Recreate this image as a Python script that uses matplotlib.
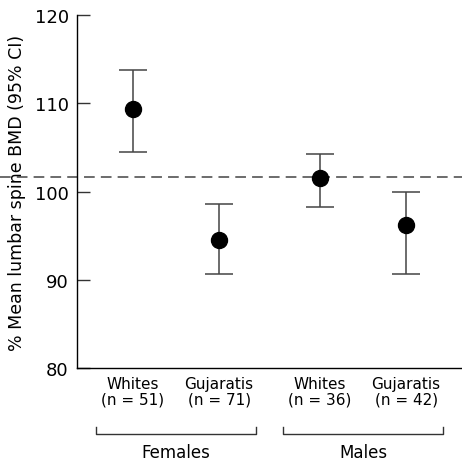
import matplotlib
matplotlib.use("Agg")
import matplotlib.pyplot as plt

groups = ["Whites", "Gujaratis", "Whites", "Gujaratis"]
counts = ["(n = 51)", "(n = 71)", "(n = 36)", "(n = 42)"]
sexes = ["Females", "Males"]
means = [109.4, 94.5, 101.5, 96.2]
ci_low = [104.5, 90.7, 98.3, 90.7]
ci_high = [113.8, 98.6, 104.3, 100.0]
reference = 101.7

#x positions as axes fraction (xlim 0..1)
xpos = [0.145, 0.369, 0.631, 0.855]

plt.rcParams["font.family"] = "DejaVu Sans"
fig = plt.figure(figsize=(4.62, 4.64), dpi=100)
ax = fig.add_axes([0.1667, 0.2047, 0.8333, 0.7608])

err = [[m - lo for m, lo in zip(means, ci_low)], [hi - m for m, hi in zip(means, ci_high)]]
ax.errorbar(xpos, means, yerr=err, fmt="none", ecolor="#444444", elinewidth=1.1,
            capsize=10, capthick=1.1, zorder=2)
ax.plot(xpos, means, "o", color="black", markersize=11.5, zorder=3)

#dashed reference line runs across the whole figure width
ax.plot([-0.2, 1.0], [reference, reference], linestyle=(0, (7, 4)), color="#444444",
        lw=1.1, clip_on=False, zorder=1)

ax.set_xlim(0, 1)
ax.set_ylim(80, 120)
ax.set_yticks([80, 90, 100, 110, 120])
ax.set_xticks([])
ax.tick_params(axis="y", direction="in", length=9.5, width=1, color="#333333",
               labelsize=13, pad=6)
ax.spines["top"].set_visible(False)
ax.spines["right"].set_visible(False)
ax.spines["left"].set_linewidth(1)
ax.spines["bottom"].set_linewidth(1)
ax.set_ylabel("% Mean lumbar spine BMD (95% CI)", fontsize=12.5, labelpad=6)

trans = ax.get_xaxis_transform()
for x, g, n in zip(xpos, groups, counts):
    ax.annotate(g, xy=(x, 0), xycoords=trans, xytext=(0, -11.5), textcoords="offset points",
                ha="center", va="center", fontsize=11)
    ax.annotate(n, xy=(x, 0), xycoords=trans, xytext=(0, -22), textcoords="offset points",
                ha="center", va="center", fontsize=11)

for i, s in enumerate(sexes):
    left, right = xpos[2 * i] - 0.096, xpos[2 * i + 1] + 0.096
    ax.plot([left, left, right, right], [-0.167, -0.187, -0.187, -0.167], color="#333333",
            lw=1, transform=trans, clip_on=False)
    ax.text((left + right) / 2, -0.237, s, transform=trans, ha="center", va="center",
            fontsize=12)

fig.savefig("out.png", dpi=100)
